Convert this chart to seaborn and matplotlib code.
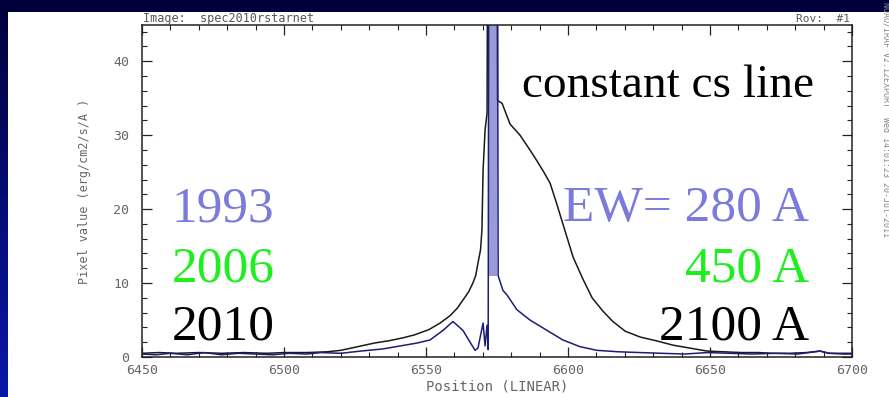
import numpy as np
import pandas as pd
import matplotlib
matplotlib.use("Agg")
import matplotlib.pyplot as plt
import seaborn as sns
from matplotlib.patches import Rectangle
from matplotlib.ticker import MultipleLocator
from matplotlib.colors import LinearSegmentedColormap

# ---------------- data ----------------
wave_2010 = [6450, 6456, 6462, 6470, 6478, 6486, 6494, 6500, 6508, 6515,
             6520, 6526, 6532, 6537, 6542, 6546, 6551, 6555, 6558.5, 6561,
             6563, 6565, 6566.5, 6567.5, 6568.3, 6569.2, 6569.7, 6570.1, 6570.8, 6571.5,
             6571.9, 6573.5, 6575.0, 6575.2, 6576.8, 6579.6, 6583.1, 6586.6, 6589.1, 6591.5,
             6593.7, 6595.8, 6598.2, 6601.8, 6605.3, 6608.5, 6612.3, 6615.8, 6620.1, 6625.4,
             6631, 6637, 6643, 6649, 6655, 6661, 6667, 6672, 6678, 6684,
             6688.7, 6692, 6696, 6700]
flux_2010 = [0.5, 0.6, 0.5, 0.6, 0.5, 0.6, 0.5, 0.6, 0.6, 0.7,
             0.9, 1.4, 1.9, 2.2, 2.6, 3.0, 3.7, 4.6, 5.6, 6.6,
             7.7, 8.8, 10.0, 11.0, 12.7, 14.5, 17.2, 25.3, 30.7, 33.0,
             80, 80, 80, 34.7, 34.3, 31.5, 30.0, 28.0, 26.5, 25.0,
             23.5, 21.0, 18.0, 13.5, 10.5, 8.0, 6.2, 4.8, 3.5, 2.7,
             2.2, 1.6, 1.2, 0.8, 0.7, 0.6, 0.6, 0.5, 0.5, 0.6,
             0.8, 0.5, 0.5, 0.5]

wave_1993 = [6450, 6455, 6460, 6466, 6472, 6478, 6484, 6490, 6496, 6502,
             6508, 6513, 6520, 6527, 6535, 6541, 6547, 6551.4, 6556.0, 6559.5,
             6563.0, 6565.5, 6567.3, 6568.3, 6570.1, 6570.8, 6571.5, 6571.9, 6572.2, 6573.6,
             6575.0, 6575.4, 6577.1, 6578.5, 6582.0, 6586.6, 6592.6, 6598.2, 6604.2, 6610.2,
             6618, 6625.4, 6633, 6641, 6649, 6657, 6665, 6673, 6681, 6688.7,
             6692, 6697, 6700]
flux_1993 = [0.4, 0.3, 0.5, 0.3, 0.6, 0.3, 0.5, 0.4, 0.3, 0.5,
             0.4, 0.6, 0.5, 0.8, 1.1, 1.5, 1.9, 2.3, 3.6, 4.8,
             3.6, 2.0, 0.9, 1.2, 4.6, 1.5, 4.3, 1.0, 90, 90,
             90, 11.0, 9.0, 8.4, 6.4, 5.0, 3.6, 2.3, 1.4, 0.9,
             0.7, 0.6, 0.5, 0.4, 0.6, 0.5, 0.4, 0.5, 0.4, 0.8,
             0.5, 0.4, 0.4]

# saturated core of the 1993 line (drawn as a shaded band)
band_wave = [6572.3, 6575.1]
band_low = [11.0, 11.0]
band_high = [45.0, 45.0]

years = ["1993", "2006", "2010"]
ew_labels = ["EW= 280 A", "450 A", "2100 A"]
year_colors = ["#7b7bdb", "#1ef01e", "#000000"]

x_ticks = [6450, 6500, 6550, 6600, 6650, 6700]
y_ticks = [0, 10, 20, 30, 40]

# ---------------- figure ----------------
W, H = 889, 397
sns.set_theme(style="ticks")
plt.rcParams["font.family"] = ["DejaVu Sans"]
fig = plt.figure(figsize=(W / 100, H / 100), dpi=100)
fig.patch.set_facecolor("#00003c")

def fx(px):
    return px / W

def fy(py):
    return 1 - py / H

# left blue strip gradient
bg = fig.add_axes([0, 0, fx(8), 1], zorder=-5)
grad = np.linspace(0, 1, 256).reshape(-1, 1)
cm = LinearSegmentedColormap.from_list("slide", ["#00003c", "#0a18a8"])
bg.imshow(grad, aspect="auto", cmap=cm, extent=[0, 1, 0, 1], origin="upper")
bg.set_axis_off()

# white slide panel
panel = fig.add_axes([fx(8), 0, 1 - fx(8), fy(12)], zorder=-4)
panel.set_facecolor("white")
panel.set_axis_off()
panel.add_patch(Rectangle((0, 0), 1, 1, transform=panel.transAxes,
                          facecolor="white", edgecolor="none"))

ax = fig.add_axes([fx(142), fy(357), fx(852) - fx(142), fy(25) - fy(357)], zorder=2)
ax.set_facecolor("white")

ax.fill_between(band_wave, band_low, band_high, color="#9a9ad6", linewidth=0, zorder=1)

df10 = pd.DataFrame({"wave": wave_2010, "flux": flux_2010})
df93 = pd.DataFrame({"wave": wave_1993, "flux": flux_1993})
sns.lineplot(data=df10, x="wave", y="flux", ax=ax, color="#1a1a1a", linewidth=1.1,
             estimator=None, sort=False, zorder=3)
sns.lineplot(data=df93, x="wave", y="flux", ax=ax, color="#1c1c7a", linewidth=1.1,
             estimator=None, sort=False, zorder=4)

ax.set_xlim(6450, 6700)
ax.set_ylim(0, 44.9)
ax.set_xticks(x_ticks)
ax.set_yticks(y_ticks)
ax.xaxis.set_minor_locator(MultipleLocator(10))
ax.yaxis.set_minor_locator(MultipleLocator(2))
ax.tick_params(which="both", direction="in", top=True, right=True, color="#222222",
               labelcolor="#666666", labelsize=9.5)
ax.tick_params(which="major", length=7, width=0.9)
ax.tick_params(which="minor", length=3.5, width=0.8)
ax.tick_params(axis="y", pad=9)
ax.tick_params(axis="x", pad=5)
for lab in ax.get_xticklabels() + ax.get_yticklabels():
    lab.set_family("DejaVu Sans Mono")
for s in ax.spines.values():
    s.set_linewidth(1.1)
    s.set_color("#222222")

ax.set_xlabel("Position (LINEAR)", family="DejaVu Sans Mono", fontsize=10,
              color="#666666", labelpad=2)
ax.set_ylabel("Pixel value (erg/cm2/s/A )", family="DejaVu Sans Mono", fontsize=8.5,
              color="#666666", labelpad=16)

fig.text(fx(143), fy(22), "Image:  spec2010rstarnet", family="DejaVu Sans Mono",
         fontsize=8.5, color="#555555", va="baseline", ha="left", zorder=5)
fig.text(fx(850), fy(22), "Rov:  #1", family="DejaVu Sans Mono",
         fontsize=8, color="#555555", va="baseline", ha="right", zorder=5)
fig.text(fx(886), fy(120), "NOAO/IRAF V2.12EXPORT  Wed 14:01:23 20-Jul-2011",
         family="DejaVu Sans Mono", fontsize=6, color="#888888", rotation=-90,
         va="center", ha="center", zorder=5)

# big annotations
serif = ["Liberation Serif", "DejaVu Serif"]
fig.text(fx(522), fy(97), "constant cs line", family=serif, fontsize=34,
         color="black", va="baseline", ha="left", zorder=6)
baselines = [221, 282, 340]
for yr, ew, col, b in zip(years, ew_labels, year_colors, baselines):
    fig.text(fx(172), fy(b), yr, family=serif, fontsize=37, color=col,
             va="baseline", ha="left", zorder=6)
    fig.text(fx(809), fy(b), ew, family=serif, fontsize=37, color=col,
             va="baseline", ha="right", zorder=6)

fig.savefig("out.png", dpi=100, facecolor=fig.get_facecolor())
